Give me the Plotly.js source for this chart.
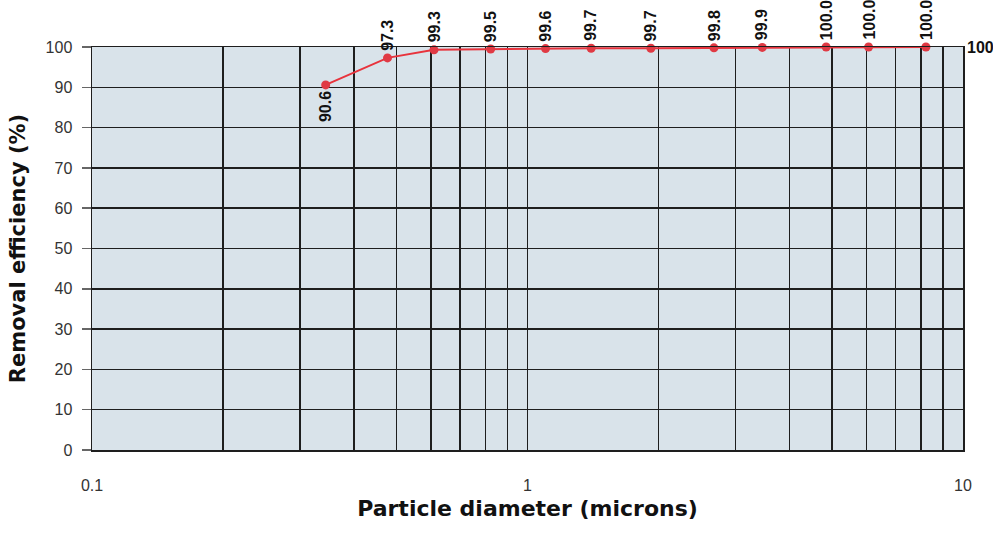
<!DOCTYPE html>
<html>
<head>
<meta charset="utf-8">
<script src="https://cdn.plot.ly/plotly-3.0.1.min.js"></script>
<style>html,body{margin:0;padding:0;background:#fff;}#chart{width:993px;height:533px;}</style>
</head>
<body>
<div id="chart"></div>
<script>
// Particle diameters (microns)
var diameters = [0.344, 0.477, 0.61, 0.823, 1.10, 1.40, 1.92, 2.68, 3.46, 4.85, 6.07, 8.22];
// Removal efficiency (%)
var efficiency = [90.6, 97.3, 99.3, 99.5, 99.6, 99.7, 99.7, 99.8, 99.9, 100.0, 100.0, 100.0];
var pointLabels = ["90.6", "97.3", "99.3", "99.5", "99.6", "99.7", "99.7", "99.8", "99.9", "100.0", "100.0", "100.0"];
// x-axis grid positions and tick labels
var xGridVals = [0.1,0.2,0.3,0.4,0.5,0.6,0.7,0.8,0.9,1,2,3,4,5,6,7,8,9,10];
var xTickText = ["0.1","","","","","","","","","1","","","","","","","","","10"];
var yTickVals = [0,10,20,30,40,50,60,70,80,90,100];
var rightLabel = "100";

var FONT = "Liberation Sans, Arial, Helvetica, sans-serif";
var TITLE_FONT = "DejaVu Sans, Liberation Sans, Arial, sans-serif";
var GRID = "#1e1e1e";

var trace = {
  x: diameters,
  y: efficiency,
  type: "scatter",
  mode: "lines+markers",
  line: {color: "#e8333c", width: 2},
  marker: {color: "#e03a44", size: 9},
  hoverinfo: "x+y",
  cliponaxis: false
};

var annotations = diameters.map(function (d, i) {
  var below = i === 0;
  return {
    x: Math.log10(d), y: efficiency[i], xref: "x", yref: "y",
    text: "<b>" + pointLabels[i] + "</b>",
    showarrow: false, textangle: -90,
    xanchor: "center", yanchor: below ? "top" : "bottom",
    yshift: below ? -5 : 6, borderpad: 0,
    font: {family: FONT, size: 16, color: "#111"}
  };
});
annotations.push({
  x: 1, y: 100, xref: "paper", yref: "y", text: "<b>" + rightLabel + "</b>",
  showarrow: false, xanchor: "left", yanchor: "middle", xshift: 2,
  font: {family: FONT, size: 16, color: "#111"}
});

var layout = {
  width: 993, height: 533,
  margin: {l: 92, r: 30, t: 47, b: 83},
  paper_bgcolor: "#ffffff",
  plot_bgcolor: "#d9e3ea",
  showlegend: false,
  font: {family: FONT, color: "#333"},
  xaxis: {
    type: "log", range: [-1, 1],
    tickvals: xGridVals, ticktext: xTickText,
    ticks: "", showgrid: true, gridcolor: GRID, gridwidth: 1.5,
    showline: true, mirror: true, linecolor: GRID, linewidth: 1.5,
    zeroline: false,
    ticklabelstandoff: 20,
    tickfont: {family: FONT, size: 16, color: "#333"},
    title: {text: "<b>Particle diameter (microns)</b>", font: {family: TITLE_FONT, size: 22, color: "#111"}, standoff: 8}
  },
  yaxis: {
    range: [0, 100], tickvals: yTickVals,
    ticks: "outside", ticklen: 9, tickwidth: 1.5, tickcolor: "#666",
    showgrid: true, gridcolor: GRID, gridwidth: 1.5,
    showline: true, mirror: true, linecolor: GRID, linewidth: 1.5,
    zeroline: false,
    ticklabelstandoff: 6,
    tickfont: {family: FONT, size: 16, color: "#333"},
    title: {text: "<b>Removal efficiency (%)</b>", font: {family: TITLE_FONT, size: 21, color: "#111"}, standoff: 14}
  },
  annotations: annotations
};

Plotly.newPlot("chart", [trace], layout, {displayModeBar: false, staticPlot: true});
</script>
</body>
</html>
